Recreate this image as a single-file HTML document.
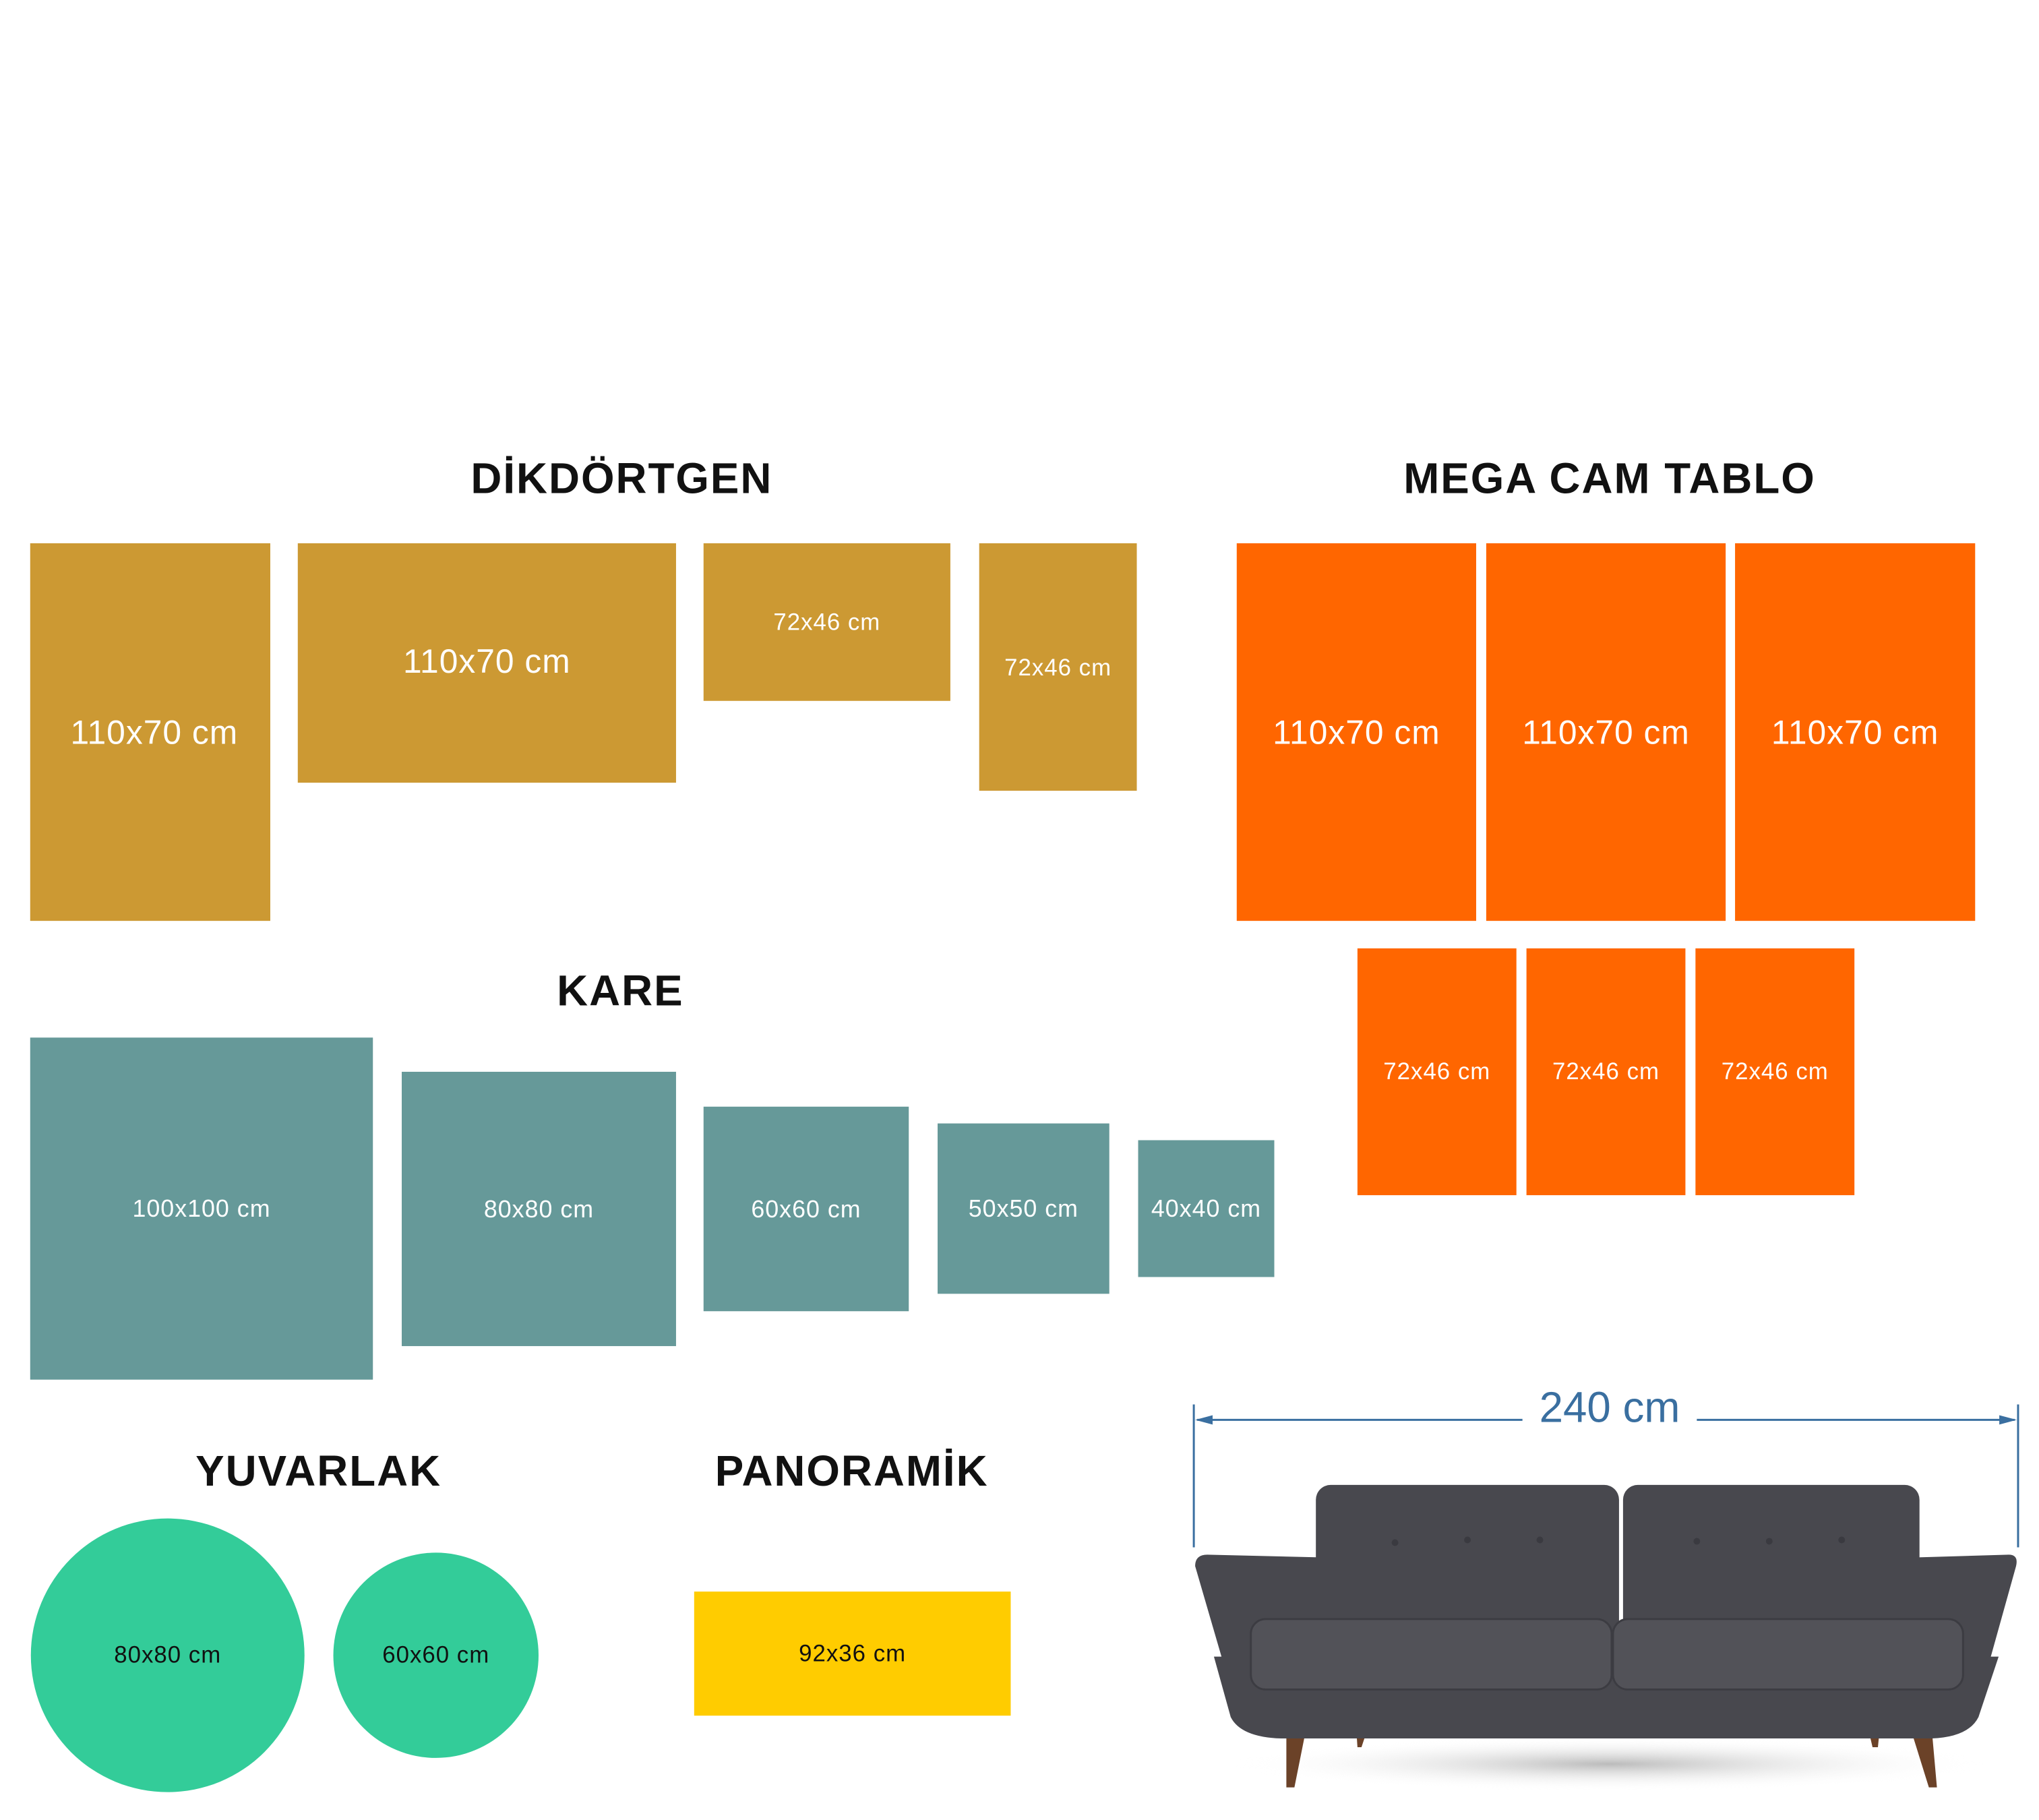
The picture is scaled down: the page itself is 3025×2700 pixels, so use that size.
<!DOCTYPE html>
<html><head><meta charset="utf-8"><style>
body{margin:0;width:3025px;height:2700px;background:#fff;position:relative;overflow:hidden;font-family:"Liberation Sans",sans-serif}
#w{position:absolute;left:0;top:0;width:3025px;height:2700px;transform:scale(0.995);transform-origin:0 0}
.r{position:absolute;display:flex;align-items:center;justify-content:center;color:#fff;white-space:nowrap}
.t{position:absolute;transform:translateX(-50%);font-size:64px;font-weight:bold;color:#111;letter-spacing:2px;white-space:nowrap}
.g{background:#CC9933}.o{background:#FF6600}.k{background:#669999;font-size:36px;letter-spacing:1px}
.b{font-size:50px;letter-spacing:1px}.s{font-size:35px;letter-spacing:1px}
</style></head><body><div id="w">
<div class="t" style="left:927px;top:676px">DİKDÖRTGEN</div>
<div class="t" style="left:2400px;top:676px">MEGA CAM TABLO</div>
<div class="t" style="left:925px;top:1440px">KARE</div>
<div class="t" style="left:475px;top:2156px">YUVARLAK</div>
<div class="t" style="left:1270px;top:2156px">PANORAMİK</div>

<div class="r g b" style="left:45px;top:810px;width:358px;height:563px;padding-left:12px;box-sizing:border-box">110x70 cm</div>
<div class="r g b" style="left:444px;top:810px;width:564px;height:357px;padding-bottom:5px;box-sizing:border-box">110x70 cm</div>
<div class="r g s" style="left:1049px;top:810px;width:368px;height:235px">72x46 cm</div>
<div class="r g s" style="left:1460px;top:810px;width:235px;height:369px;padding-top:2px;box-sizing:border-box">72x46 cm</div>

<div class="r o b" style="left:1844px;top:810px;width:357px;height:563px">110x70 cm</div>
<div class="r o b" style="left:2216px;top:810px;width:357px;height:563px">110x70 cm</div>
<div class="r o b" style="left:2587px;top:810px;width:358px;height:563px">110x70 cm</div>
<div class="r o s" style="left:2024px;top:1414px;width:237px;height:368px">72x46 cm</div>
<div class="r o s" style="left:2276px;top:1414px;width:237px;height:368px">72x46 cm</div>
<div class="r o s" style="left:2528px;top:1414px;width:237px;height:368px">72x46 cm</div>

<div class="r k" style="left:45px;top:1547px;width:511px;height:510px">100x100 cm</div>
<div class="r k" style="left:599px;top:1598px;width:409px;height:409px">80x80 cm</div>
<div class="r k" style="left:1049px;top:1650px;width:306px;height:305px">60x60 cm</div>
<div class="r k" style="left:1398px;top:1675px;width:256px;height:254px">50x50 cm</div>
<div class="r k" style="left:1697px;top:1700px;width:203px;height:204px">40x40 cm</div>

<div class="r s" style="left:46px;top:2264px;width:408px;height:408px;border-radius:50%;background:#33CC99;color:#111">80x80 cm</div>
<div class="r s" style="left:497px;top:2315px;width:306px;height:306px;border-radius:50%;background:#33CC99;color:#111">60x60 cm</div>
<div class="r s" style="left:1035px;top:2373px;width:472px;height:185px;background:#FFCC00;color:#111">92x36 cm</div>

<svg width="3025" height="2700" style="position:absolute;left:0;top:0">
<g stroke="#3a6fa0" stroke-width="3" fill="#3a6fa0">
<line x1="1780" y1="2094" x2="1780" y2="2307"/><line x1="3009" y1="2094" x2="3009" y2="2307"/>
<line x1="1785" y1="2117" x2="2270" y2="2117"/><line x1="2530" y1="2117" x2="3004" y2="2117"/>
<polygon points="1782,2117 1808,2110 1808,2124" stroke="none"/><polygon points="3007,2117 2981,2110 2981,2124" stroke="none"/>
</g>
<text x="2400" y="2120" font-family="Liberation Sans" font-size="64" fill="#3a6fa0" text-anchor="middle">240 cm</text>
<defs><radialGradient id="sh"><stop offset="0" stop-color="#bbb"/><stop offset="1" stop-color="#fff" stop-opacity="0"/></radialGradient></defs>
<ellipse cx="2400" cy="2630" rx="560" ry="40" fill="url(#sh)"/>
<g fill="#6b4228">
<polygon points="1918,2575 1948,2575 1930,2665 1918,2665"/>
<polygon points="2022,2575 2040,2575 2030,2605 2024,2605"/>
<polygon points="2785,2575 2803,2575 2800,2605 2792,2605"/>
<polygon points="2848,2575 2880,2575 2888,2665 2876,2665"/>
</g>
<g fill="#48484e">
<rect x="1962" y="2214" width="452" height="240" rx="22"/>
<rect x="2420" y="2214" width="442" height="240" rx="22"/>
<path d="M1782,2335 Q1782,2318 1800,2318 L1968,2322 L1968,2500 L1830,2500 Z"/>
<path d="M2860,2322 L2995,2318 Q3010,2318 3006,2335 L2960,2500 L2860,2500 Z"/>
<path d="M1810,2470 L2980,2470 L2950,2560 Q2935,2590 2880,2592 L1910,2592 Q1850,2590 1835,2560 Z"/>
</g>
<g fill="#525258" stroke="#3c3c42" stroke-width="3">
<rect x="1865" y="2414" width="538" height="105" rx="22"/>
<rect x="2405" y="2414" width="522" height="105" rx="22"/>
</g>
<g fill="#3a3a40">
<circle cx="2080" cy="2300" r="5"/><circle cx="2188" cy="2296" r="5"/><circle cx="2296" cy="2296" r="5"/>
<circle cx="2530" cy="2298" r="5"/><circle cx="2638" cy="2298" r="5"/><circle cx="2746" cy="2296" r="5"/>
</g>
</svg>
</div></body></html>
